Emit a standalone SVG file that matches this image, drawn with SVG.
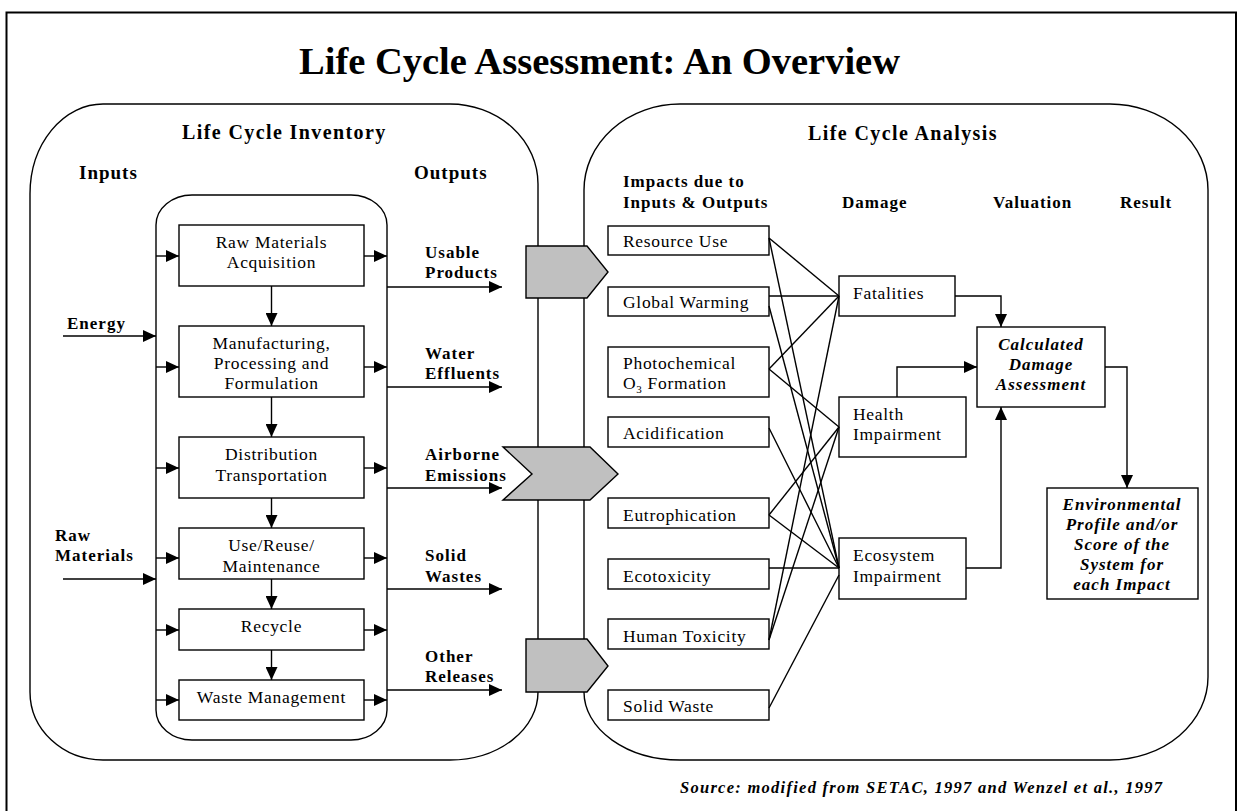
<svg xmlns="http://www.w3.org/2000/svg" width="1238" height="811" viewBox="0 0 1238 811">
  <defs>
    <marker id="ah" viewBox="0 0 13 12" refX="13" refY="6" markerWidth="13" markerHeight="12" markerUnits="userSpaceOnUse" orient="auto">
      <path d="M0,0 L13,6 L0,12 Z" fill="#000"/>
    </marker>
    <style>
      text { font-family: "Liberation Serif", "Times New Roman", serif; fill: #000; }
      .title { font-size: 38px; font-weight: bold; }
      .sec { font-size: 20px; font-weight: bold; letter-spacing: 1.4px; }
      .io { font-size: 19px; font-weight: bold; letter-spacing: 1px; }
      .lbl { font-size: 17px; font-weight: bold; letter-spacing: 1px; }
      .txt { font-size: 17.5px; letter-spacing: 0.7px; }
      .sub { font-size: 11px; }
      .emph { font-size: 17px; font-weight: bold; font-style: italic; letter-spacing: 1px; }
      .src { font-size: 16.5px; font-weight: bold; font-style: italic; }
      .mid { text-anchor: middle; }
      .box { fill: #fff; stroke: #000; stroke-width: 1.4; }
      .frame { fill: none; stroke: #000; stroke-width: 2; }
      .panel { fill: #fff; stroke: #000; stroke-width: 1.4; }
      .shape { fill: #c0c0c0; stroke: #000; stroke-width: 1.4; }
      .ln { fill: none; stroke: #000; stroke-width: 1.4; }
      .arr { fill: none; stroke: #000; stroke-width: 1.4; marker-end: url(#ah); }
    </style>
  </defs>

  <rect width="1238" height="811" fill="#fff"/>
  <path class="frame" d="M6.5,812 V12.5 H1236 V812"/>

  <text class="title" x="299" y="74" textLength="601" lengthAdjust="spacingAndGlyphs">Life Cycle Assessment: An Overview</text>

  <!-- Inventory panel -->
  <g id="inventory">
    <path class="panel" d="M103,104 H450 A88,80 0 0 1 538,184 V692 A88,68 0 0 1 450,760 H103 A73,68 0 0 1 30,692 V194 A73,90 0 0 1 103,104 Z"/>
    <text class="sec" x="182" y="139">Life Cycle Inventory</text>
    <text class="io" x="79" y="179">Inputs</text>
    <text class="io" x="414" y="179">Outputs</text>
    <rect class="panel" x="156" y="195" width="231" height="545" rx="36" ry="30"/>
  </g>

  <!-- Analysis panel -->
  <g id="analysis">
    <path class="panel" d="M680,104 H1110 A98,86 0 0 1 1208,190 V677 A98,83 0 0 1 1110,760 H680 A96,68 0 0 1 584,692 V190 A96,86 0 0 1 680,104 Z"/>
    <text class="sec" x="808" y="140">Life Cycle Analysis</text>
    <text class="lbl" x="623" y="187">Impacts due to</text>
    <text class="lbl" x="623" y="208">Inputs &amp; Outputs</text>
    <text class="lbl" x="842" y="208">Damage</text>
    <text class="lbl" x="993" y="208">Valuation</text>
    <text class="lbl" x="1120" y="208">Result</text>
  </g>

  <!-- Life cycle stages -->
  <g id="raw-materials-acquisition">
    <rect class="box" x="179" y="225" width="185" height="61"/>
    <text class="txt mid" x="271.5" y="248">Raw Materials</text>
    <text class="txt mid" x="271.5" y="268">Acquisition</text>
  </g>
  <g id="manufacturing">
    <rect class="box" x="179" y="326" width="185" height="71"/>
    <text class="txt mid" x="271.5" y="349">Manufacturing,</text>
    <text class="txt mid" x="271.5" y="369">Processing and</text>
    <text class="txt mid" x="271.5" y="389">Formulation</text>
  </g>
  <g id="distribution">
    <rect class="box" x="179" y="437" width="185" height="61"/>
    <text class="txt mid" x="271.5" y="460">Distribution</text>
    <text class="txt mid" x="271.5" y="481">Transportation</text>
  </g>
  <g id="use-reuse">
    <rect class="box" x="179" y="528" width="185" height="51"/>
    <text class="txt mid" x="271.5" y="551">Use/Reuse/</text>
    <text class="txt mid" x="271.5" y="572">Maintenance</text>
  </g>
  <g id="recycle">
    <rect class="box" x="179" y="609" width="185" height="41"/>
    <text class="txt mid" x="271.5" y="632">Recycle</text>
  </g>
  <g id="waste-management">
    <rect class="box" x="179" y="680" width="185" height="40"/>
    <text class="txt mid" x="271.5" y="703">Waste Management</text>
  </g>

  <!-- Inputs and outputs labels -->
  <g id="energy">
    <text class="lbl" x="67" y="329">Energy</text>
  </g>
  <g id="raw-materials">
    <text class="lbl" x="55" y="541">Raw</text>
    <text class="lbl" x="55" y="561">Materials</text>
  </g>
  <g id="usable-products">
    <text class="lbl" x="425" y="258">Usable</text>
    <text class="lbl" x="425" y="278">Products</text>
  </g>
  <g id="water-effluents">
    <text class="lbl" x="425" y="359">Water</text>
    <text class="lbl" x="425" y="379">Effluents</text>
  </g>
  <g id="airborne-emissions">
    <text class="lbl" x="425" y="460">Airborne</text>
    <text class="lbl" x="425" y="481">Emissions</text>
  </g>
  <g id="solid-wastes">
    <text class="lbl" x="425" y="561">Solid</text>
    <text class="lbl" x="425" y="582">Wastes</text>
  </g>
  <g id="other-releases">
    <text class="lbl" x="425" y="662">Other</text>
    <text class="lbl" x="425" y="682">Releases</text>
  </g>

  <!-- Transfer shapes across the panels -->
  <g id="transfer-top">
    <path class="shape" d="M526,246 H587 L608,272 L587,298 H526 Z"/>
  </g>
  <g id="transfer-middle">
    <path class="shape" d="M503,447 H590 L618,474 L590,500 H503 L532,474 Z"/>
  </g>
  <g id="transfer-bottom">
    <path class="shape" d="M526,639 H587 L608,666 L587,692 H526 Z"/>
  </g>

  <!-- Impact categories -->
  <g id="resource-use">
    <rect class="box" x="608" y="226" width="161" height="29"/>
    <text class="txt" x="623" y="247">Resource Use</text>
  </g>
  <g id="global-warming">
    <rect class="box" x="608" y="287" width="161" height="29"/>
    <text class="txt" x="623" y="308">Global Warming</text>
  </g>
  <g id="photochemical">
    <rect class="box" x="608" y="347" width="161" height="50"/>
    <text class="txt" x="623" y="369">Photochemical</text>
    <text class="txt" x="623" y="389">O<tspan class="sub" dy="4">3</tspan><tspan dy="-4" dx="5">Formation</tspan></text>
  </g>
  <g id="acidification">
    <rect class="box" x="608" y="417" width="161" height="30"/>
    <text class="txt" x="623" y="439">Acidification</text>
  </g>
  <g id="eutrophication">
    <rect class="box" x="608" y="498" width="161" height="30"/>
    <text class="txt" x="623" y="521">Eutrophication</text>
  </g>
  <g id="ecotoxicity">
    <rect class="box" x="608" y="559" width="161" height="30"/>
    <text class="txt" x="623" y="582">Ecotoxicity</text>
  </g>
  <g id="human-toxicity">
    <rect class="box" x="608" y="619" width="161" height="30"/>
    <text class="txt" x="623" y="642">Human Toxicity</text>
  </g>
  <g id="solid-waste">
    <rect class="box" x="608" y="690" width="161" height="30"/>
    <text class="txt" x="623" y="712">Solid Waste</text>
  </g>

  <!-- Damage categories -->
  <g id="fatalities">
    <rect class="box" x="839" y="276" width="116" height="40"/>
    <text class="txt" x="853" y="299">Fatalities</text>
  </g>
  <g id="health-impairment">
    <rect class="box" x="839" y="397" width="127" height="60"/>
    <text class="txt" x="853" y="420">Health</text>
    <text class="txt" x="853" y="440">Impairment</text>
  </g>
  <g id="ecosystem-impairment">
    <rect class="box" x="839" y="538" width="127" height="61"/>
    <text class="txt" x="853" y="561">Ecosystem</text>
    <text class="txt" x="853" y="582">Impairment</text>
  </g>

  <!-- Valuation and result -->
  <g id="calculated-damage">
    <rect class="box" x="977" y="327" width="128" height="80"/>
    <text class="emph mid" x="1041" y="350">Calculated</text>
    <text class="emph mid" x="1041" y="370">Damage</text>
    <text class="emph mid" x="1041" y="390">Assessment</text>
  </g>
  <g id="environmental-profile">
    <rect class="box" x="1047" y="488" width="151" height="111"/>
    <text class="emph mid" x="1122" y="510">Environmental</text>
    <text class="emph mid" x="1122" y="530">Profile and/or</text>
    <text class="emph mid" x="1122" y="550">Score of the</text>
    <text class="emph mid" x="1122" y="570">System for</text>
    <text class="emph mid" x="1122" y="590">each Impact</text>
  </g>

  <!-- Connectors -->
  <g id="connectors">
    <!-- inputs into the stages -->
    <line class="arr" x1="156" y1="256" x2="179" y2="256"/>
    <line class="arr" x1="156" y1="367" x2="179" y2="367"/>
    <line class="arr" x1="156" y1="468" x2="179" y2="468"/>
    <line class="arr" x1="156" y1="558" x2="179" y2="558"/>
    <line class="arr" x1="156" y1="630" x2="179" y2="630"/>
    <line class="arr" x1="156" y1="700" x2="179" y2="700"/>
    <!-- outputs from the stages -->
    <line class="arr" x1="364" y1="256" x2="387" y2="256"/>
    <line class="arr" x1="364" y1="367" x2="387" y2="367"/>
    <line class="arr" x1="364" y1="468" x2="387" y2="468"/>
    <line class="arr" x1="364" y1="558" x2="387" y2="558"/>
    <line class="arr" x1="364" y1="630" x2="387" y2="630"/>
    <line class="arr" x1="364" y1="700" x2="387" y2="700"/>
    <!-- stage sequence -->
    <line class="arr" x1="271.5" y1="286" x2="271.5" y2="326"/>
    <line class="arr" x1="271.5" y1="397" x2="271.5" y2="437"/>
    <line class="arr" x1="271.5" y1="498" x2="271.5" y2="528"/>
    <line class="arr" x1="271.5" y1="579" x2="271.5" y2="609"/>
    <line class="arr" x1="271.5" y1="650" x2="271.5" y2="680"/>
    <!-- external inputs -->
    <line class="arr" x1="63" y1="336" x2="156" y2="336"/>
    <line class="arr" x1="63" y1="579" x2="156" y2="579"/>
    <!-- system outputs -->
    <line class="arr" x1="387" y1="287" x2="502" y2="287"/>
    <line class="arr" x1="387" y1="387" x2="502" y2="387"/>
    <line class="arr" x1="387" y1="488" x2="502" y2="488"/>
    <line class="arr" x1="387" y1="589" x2="502" y2="589"/>
    <line class="arr" x1="387" y1="690" x2="502" y2="690"/>
    <!-- impacts to damage -->
    <line class="ln" x1="769" y1="238" x2="839" y2="296"/>
    <line class="ln" x1="769" y1="238" x2="839" y2="568"/>
    <line class="ln" x1="769" y1="296" x2="839" y2="296"/>
    <line class="ln" x1="769" y1="306" x2="839" y2="568"/>
    <line class="ln" x1="769" y1="369" x2="839" y2="296"/>
    <line class="ln" x1="769" y1="369" x2="839" y2="427"/>
    <line class="ln" x1="769" y1="428" x2="839" y2="568"/>
    <line class="ln" x1="769" y1="515" x2="839" y2="427"/>
    <line class="ln" x1="769" y1="515" x2="839" y2="568"/>
    <line class="ln" x1="769" y1="568" x2="839" y2="568"/>
    <line class="ln" x1="769" y1="640" x2="839" y2="296"/>
    <line class="ln" x1="769" y1="640" x2="839" y2="427"/>
    <line class="ln" x1="769" y1="708" x2="839" y2="575"/>
    <!-- damage to valuation and result -->
    <polyline class="arr" points="955,296 1001,296 1001,327"/>
    <polyline class="arr" points="897,397 897,367 977,367"/>
    <polyline class="arr" points="966,568 1001,568 1001,407"/>
    <polyline class="arr" points="1105,367 1127,367 1127,488"/>
  </g>

  <text class="src" x="680" y="793" textLength="482" lengthAdjust="spacing">Source: modified from SETAC, 1997 and Wenzel et al., 1997</text>
</svg>
